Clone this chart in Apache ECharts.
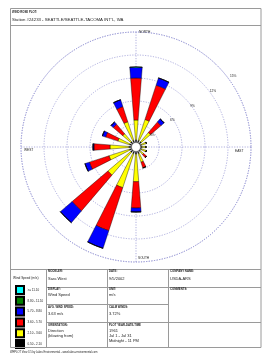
<!DOCTYPE html>
<html><head><meta charset="utf-8">
<script src="https://cdn.jsdelivr.net/npm/echarts@6/dist/echarts.min.js"></script>
<style>html,body{margin:0;padding:0;background:#fff}#c{width:270px;height:361px}</style>
</head><body><div id="c"></div>
<script>
// ---- data ----
const directions = ['N','NNE','NE','ENE','E','ESE','SE','SSE','S','SSW','SW','WSW','W','WNW','NW','NNW'];
const speedClasses = ['0.50 - 2.10','2.10 - 3.60','3.60 - 5.70','5.70 - 8.80','8.80 - 11.10','>= 11.10'];
const classColors = ['#000000','#ffff00','#ff0000','#0000ff','#008000','#00ffff'];
// frequency (%) per direction for each speed class
const freq_0_50_2_10  = [0.91,0.91,0.91,0.78,0.78,0.78,0.78,0.91,0.91,0.91,0.91,0.91,0.91,0.91,0.91,0.91];
const freq_2_10_3_60  = [2.61,2.87,1.57,0.65,0.52,0.65,0.52,1.18,3.62,4.67,3.92,2.79,2.48,1.57,1.37,2.55];
const freq_3_60_5_70  = [5.48,4.70,1.82,0.00,0.00,0.00,0.53,0.78,3.43,5.90,6.13,2.69,2.09,1.69,1.63,2.08];
const freq_5_70_8_80  = [1.43,0.99,0.53,0.00,0.00,0.00,0.00,0.00,0.52,2.42,2.02,0.61,0.13,0.45,0.39,0.94];
const freq_8_80_11_10 = [0,0,0,0,0,0,0,0,0,0,0,0,0,0,0,0];
const freq_ge_11_10   = [0,0,0,0,0,0,0,0,0,0,0,0,0,0,0,0];
const ringMax = 15, ringStep = 3;
const ringLabels = [3,6,9,12,15];
const legendOrder = ['>= 11.10','8.80 - 11.10','5.70 - 8.80','3.60 - 5.70','2.10 - 3.60','0.50 - 2.10'];

const classData = [freq_0_50_2_10, freq_2_10_3_60, freq_3_60_5_70, freq_5_70_8_80, freq_8_80_11_10, freq_ge_11_10];

const CX = 136, CY = 147, R = 115;
const FONT = 'Liberation Sans, Arial, sans-serif';
const gridLine = {color:'#8c8cd0', width:0.7, type:[1.2,1.4]};
const border = '#9a9a9a';

function txt(x, y, s, size, bold, align){
  return {type:'text', x:x, y:y, z:50, style:{text:s, fill:'#222', font:(bold?'bold ':'')+size+'px '+FONT, textVerticalAlign:'middle', textAlign:align||'left'}};
}
function ln(x1,y1,x2,y2){
  return {type:'line', z:40, shape:{x1:x1,y1:y1,x2:x2,y2:y2}, style:{stroke:border, lineWidth:1}};
}

const graphics = [
  {type:'rect', z:40, shape:{x:10.5,y:8.5,width:250.5,height:339}, style:{fill:null, stroke:border, lineWidth:1}},
  ln(10,25.5,261,25.5),
  ln(10,269.5,261,269.5),
  ln(46.5,269,46.5,347), ln(107.5,269,107.5,347), ln(168.5,269,168.5,347),
  ln(46,287.5,261,287.5), ln(46,304.5,168,304.5), ln(46,322.5,261,322.5),
  txt(12,12,'WIND ROSE PLOT:',2.8,true),
  txt(12,19.5,"Station #24233 - SEATTLE/SEATTLE-TACOMA INT'L, WA",4.3,false),
  txt(139,32,'NORTH',3.2,false),
  txt(138,258,'SOUTH',3.2,false),
  txt(24,150.5,'WEST',3.2,false),
  txt(235,151,'EAST',3.2,false),
  txt(13,278,'Wind Speed (m/s)',3.2,false),
  txt(48,271.5,'MODELER:',2.8,true), txt(48,278.5,'Sara West',4,false),
  txt(48,289.5,'DISPLAY:',2.8,true), txt(48,295,'Wind Speed',4,false),
  txt(48,307,'AVG. WIND SPEED:',2.8,true), txt(48,314,'3.63 m/s',4,false),
  txt(48,325,'ORIENTATION:',2.8,true), txt(48,330.7,'Direction',4,false), txt(48,335.8,'(blowing from)',4,false),
  txt(109,271.5,'DATE:',2.8,true), txt(109,278.5,'9/5/2002',4,false),
  txt(109,289.5,'UNIT:',2.8,true), txt(109,295,'m/s',4,false),
  txt(109,307,'CALM WINDS:',2.8,true), txt(109,314,'3.72%',4,false),
  txt(109,325,'PLOT YEAR-DATE-TIME',2.8,true), txt(109,330.7,'1961',4,false), txt(109,335.8,'Jul 1 - Jul 31',4,false), txt(109,340.9,'Midnight - 11 PM',4,false),
  txt(170,271.5,'COMPANY NAME:',2.8,true), txt(170,278.5,'USDA-ARS',4,false),
  txt(170,289.5,'COMMENTS:',2.8,true),
  txt(10,352,'WRPLOT View 3.5 by Lakes Environmental - www.lakes-environmental.com',2.6,false),
  {type:'circle', z:60, shape:{cx:CX, cy:CY, r:4.5}, style:{fill:'#fff', stroke:'#555', lineWidth:0.6}}
];
// ring percentage labels along ~36 deg above east
const labelAngle = 36 * Math.PI / 180;
ringLabels.forEach(v => {
  const r = R * v / ringMax * 1.087 - 5;
  graphics.push(txt(CX + r * Math.cos(labelAngle), CY - r * Math.sin(labelAngle), v + '%', 3.2, false, 'center'));
});

const series = speedClasses.map((name, i) => ({
  name: name, type:'bar', coordinateSystem:'polar', polarIndex:0, stack:'rose',
  barWidth:'40%', data: classData[i], silent:true, z:10,
  itemStyle:{color:classColors[i], borderColor:'#000', borderWidth:0.4}
}));

const chart = echarts.init(document.getElementById('c'), null, {renderer:'canvas'});
chart.setOption({
  animation:false,
  backgroundColor:'#fff',
  polar:[
    {center:[CX,CY], radius:R},
    {center:[CX,CY], radius:R}
  ],
  angleAxis:[
    {polarIndex:0, type:'category', data:directions, startAngle:90+360/32, clockwise:true,
     axisLine:{show:false}, axisTick:{show:false}, axisLabel:{show:false}, splitLine:{show:false}},
    {polarIndex:1, type:'value', min:0, max:360, interval:90, startAngle:90, clockwise:true,
     axisLine:{show:true, lineStyle:gridLine}, axisTick:{show:false}, axisLabel:{show:false},
     splitLine:{show:true, lineStyle:gridLine}}
  ],
  radiusAxis:[
    {polarIndex:0, type:'value', min:0, max:ringMax, axisLine:{show:false}, axisTick:{show:false}, axisLabel:{show:false}, splitLine:{show:false}},
    {polarIndex:1, type:'value', min:0, max:ringMax, interval:ringStep, axisLine:{show:false}, axisTick:{show:false}, axisLabel:{show:false},
     splitLine:{show:true, lineStyle:gridLine}}
  ],
  legend:{
    data:legendOrder, orient:'vertical', left:15, top:285, itemWidth:8, itemHeight:8, itemGap:0.8,
    padding:0, icon:'rect', selectedMode:false, textStyle:{fontSize:3, color:'#222', fontFamily:FONT, padding:[0,0,0,-1.5]}
  },
  series: series,
  graphic: graphics
});
</script></body></html>
